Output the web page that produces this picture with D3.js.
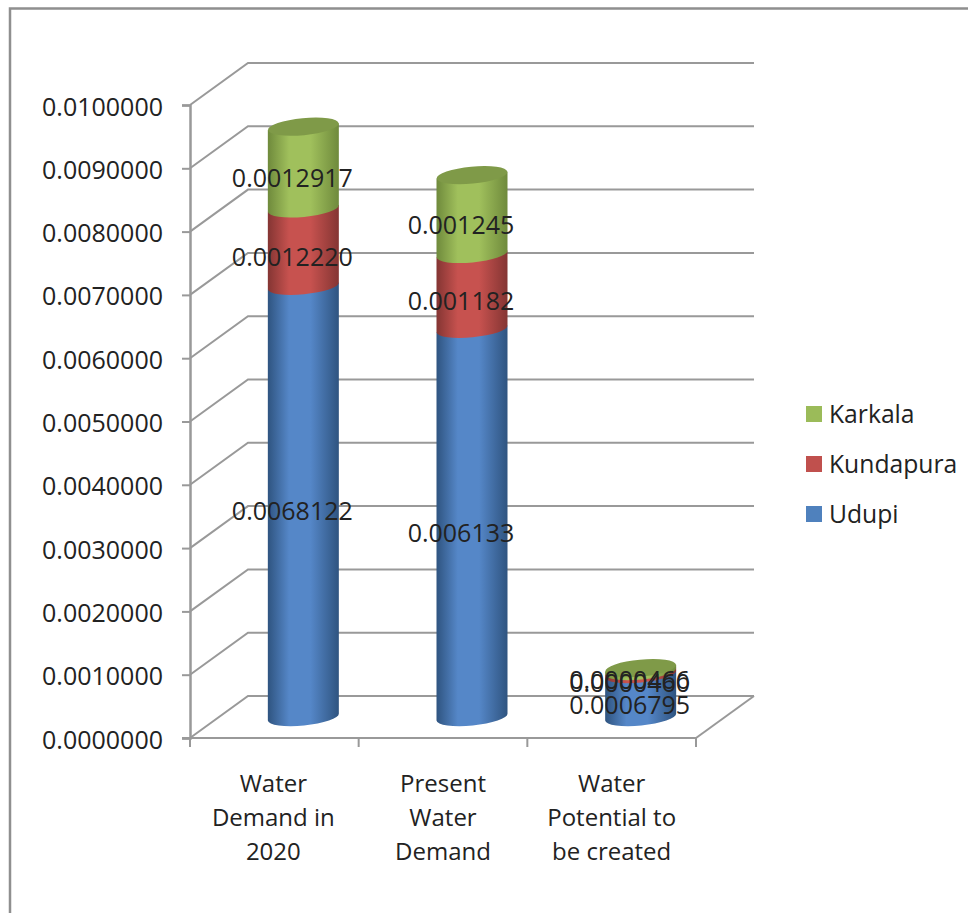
<!DOCTYPE html>
<html>
<head>
<meta charset="utf-8">
<script src="https://cdn.jsdelivr.net/npm/d3@7/dist/d3.min.js"></script>
<style>
  html, body { margin: 0; padding: 0; background: #fff; overflow: hidden; }
  text { font-family: "Open Sans", sans-serif; fill: #222; }
</style>
</head>
<body>
<svg id="chart" width="968" height="913"></svg>
<script>
// Water demand by taluk, stacked cylinders on a 3D-style wall.
const categories = [["Water", "Demand in", "2020"], ["Present", "Water", "Demand"], ["Water", "Potential to", "be created"]];
const seriesNames = ["Udupi", "Kundapura", "Karkala"];
const udupi = [0.0068122, 0.006133, 0.0006795];
const kundapura = [0.0012220, 0.001182, 0.0000460];
const karkala = [0.0012917, 0.001245, 0.0000466];
const valueLabels = [
  ["0.0068122", "0.006133", "0.0006795"],
  ["0.0012220", "0.001182", "0.0000460"],
  ["0.0012917", "0.001245", "0.0000466"]
];
const tickValues = [0, 0.001, 0.002, 0.003, 0.004, 0.005, 0.006, 0.007, 0.008, 0.009, 0.01];
const seriesColors = [
  { mid: "#5587c8", edge: "#2f5480", swatch: "#4f81bd" },
  { mid: "#c7524f", edge: "#843533", swatch: "#c0504d" },
  { mid: "#a0c05c", edge: "#6f8a3c", swatch: "#9bbb59" }
];
const capColor = "#7f9a48";

const svg = d3.select("#chart");
const y = d3.scaleLinear().domain([0, 0.01]).range([738, 105]);
const x = d3.scaleBand().domain(d3.range(categories.length)).range([190, 696]);
const depthX = 58, depthY = 42;
const gridColor = "#999";

// Outer chart frame
svg.append("path")
  .attr("d", "M10,913V8.5H968")
  .attr("fill", "none").attr("stroke", "#8f8f8f").attr("stroke-width", 2.5);

// Gridlines run up the side wall and then along the back wall
const grid = svg.append("g").attr("fill", "none").attr("stroke", gridColor).attr("stroke-width", 2);
const wallRight = x.range()[1] + depthX;
grid.selectAll("path").data(tickValues).join("path")
  .attr("d", v => `M${x.range()[0]},${y(v)}l${depthX},${-depthY}H${wallRight}`);

// Floor edge and left axis
grid.append("path").attr("d", `M${x.range()[1]},${y(0)}L${wallRight},${y(0) - depthY}`);
const yAxis = d3.axisLeft(y).tickValues(tickValues).tickSize(8).tickPadding(18).tickFormat(d3.format(".7f"));
const yG = svg.append("g").attr("transform", `translate(${x.range()[0]},0)`).call(yAxis);
yG.select(".domain").attr("stroke", gridColor).attr("stroke-width", 2.5);
yG.selectAll(".tick line").attr("stroke", gridColor).attr("stroke-width", 2);
yG.selectAll("text").style("font-family", '"Open Sans", sans-serif').style("font-size", "25px")
  .attr("fill", "#222").attr("dx", "-1").attr("y", 2);

// Floor front edge and category ticks
const xG = svg.append("g").attr("stroke", gridColor).attr("stroke-width", 2);
xG.append("line").attr("x1", x.range()[0] - 8).attr("x2", x.range()[1]).attr("y1", y(0)).attr("y2", y(0));
xG.selectAll("line.t").data(d3.range(categories.length + 1)).join("line").attr("class", "t")
  .attr("x1", i => x.range()[0] + i * x.bandwidth())
  .attr("x2", i => x.range()[0] + i * x.bandwidth())
  .attr("y1", y(0)).attr("y2", y(0) + 9);

// Category labels
const catLabels = svg.append("g").attr("text-anchor", "middle").style("font-size", "24px");
categories.forEach((lines, i) => {
  lines.forEach((line, j) => {
    catLabels.append("text")
      .attr("x", x(i) + x.bandwidth() / 2 + (i === 0 ? -1 : 0))
      .attr("y", 792 + j * 34)
      .text(line);
  });
});

// Horizontal shading that makes each body read as round
const defs = svg.append("defs");
seriesColors.forEach((c, i) => {
  const g = defs.append("linearGradient").attr("id", "shade" + i);
  g.append("stop").attr("offset", "0%").attr("stop-color", c.edge);
  g.append("stop").attr("offset", "30%").attr("stop-color", c.mid);
  g.append("stop").attr("offset", "60%").attr("stop-color", c.mid);
  g.append("stop").attr("offset", "100%").attr("stop-color", c.edge);
});

// Cylinders: each segment is a body closed by a tilted elliptical lower rim
const rx = 35.5, ry = 8.5, tilt = -5.5, lean = 3.4;
const baseShift = depthY / 2;
const stacks = d3.stack().keys([0, 1, 2]).value((d, k) => d[k])(d3.zip(udupi, kundapura, karkala));
const centerX = i => x(i) + x.bandwidth() / 2 + depthX / 2;
const yAt = v => y(v) - baseShift;
const bars = svg.append("g");
stacks.forEach((layer, s) => {
  bars.selectAll(null).data(layer).join("path")
    .attr("fill", `url(#shade${s})`)
    .attr("d", (d, i) => {
      const c = centerX(i);
      return `M${c - rx},${yAt(d[1]) + lean}L${c - rx},${yAt(d[0]) + lean}` +
        `A${rx},${ry} ${tilt} 0 0 ${c + rx},${yAt(d[0]) - lean}L${c + rx},${yAt(d[1]) - lean}Z`;
    });
});
// Caps on the top of each stack
bars.selectAll(null).data(stacks[2]).join("ellipse")
  .attr("fill", capColor)
  .attr("rx", rx).attr("ry", ry)
  .attr("transform", (d, i) => `translate(${centerX(i)},${yAt(d[1])}) rotate(${tilt})`);

// Value labels, Udupi first so the later ones print over it
const labels = svg.append("g").attr("text-anchor", "middle").style("font-size", "25px");
stacks.forEach((layer, s) => {
  labels.selectAll(null).data(layer).join("text")
    .attr("x", (d, i) => centerX(i) - 11)
    .attr("y", d => yAt((d[0] + d[1]) / 2) + 19)
    .attr("fill", "#111")
    .text((d, i) => valueLabels[s][i]);
});

// Legend lists the top of the stack first
const legend = svg.append("g");
[2, 1, 0].forEach((s, i) => {
  const ly = 414 + i * 50;
  legend.append("rect").attr("x", 806).attr("y", ly - 8).attr("width", 16).attr("height", 16)
    .attr("fill", seriesColors[s].swatch);
  legend.append("text").attr("x", 829).attr("y", ly + 9).style("font-size", "24.7px").text(seriesNames[s]);
});
</script>
</body>
</html>
